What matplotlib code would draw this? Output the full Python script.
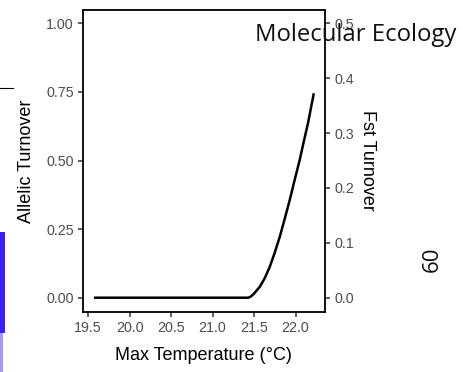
import matplotlib
matplotlib.use("Agg")
import matplotlib.pyplot as plt
from matplotlib.patches import Rectangle
from matplotlib.lines import Line2D

# fitted allelic turnover along the maximum temperature gradient
max_temp = [19.57, 20.5, 21.43, 21.46, 21.50, 21.53, 21.57, 21.63,
            21.69, 21.75, 21.81, 21.87, 21.93, 21.99, 22.05, 22.10,
            22.15, 22.22]
allelic_turnover = [0.0, 0.0, 0.0, 0.004, 0.015, 0.026, 0.040, 0.072,
                    0.113, 0.165, 0.222, 0.288, 0.356, 0.430, 0.502,
                    0.570, 0.636, 0.745]

x_ticks = [19.5, 20.0, 20.5, 21.0, 21.5, 22.0]
y_ticks = [0.0, 0.25, 0.5, 0.75, 1.0]
fst_ticks = [0.0, 0.1, 0.2, 0.3, 0.4, 0.5]
fst_scale = 0.5

plt.rcParams['font.family'] = ['Liberation Sans', 'DejaVu Sans']

W, H = 463, 372
fig = plt.figure(figsize=(W / 100, H / 100), dpi=100)
ax = fig.add_axes([82.7 / W, 1 - 311.7 / H, (325 - 82.7) / W, (311.7 - 10) / H])

ax.plot(max_temp, allelic_turnover, color='black', lw=1.8, solid_capstyle='butt')

ax.set_xlim(19.435, 22.355)
ax.set_ylim(-0.051, 1.0485)
ax.set_xticks(x_ticks)
ax.set_xticklabels([f"{t:.1f}" for t in x_ticks])
ax.set_yticks(y_ticks)
ax.set_yticklabels([f"{t:.2f}" for t in y_ticks])

tick_kw = dict(direction='out', length=3.5, width=1.1, color='#333333',
               labelcolor='#4d4d4d', labelsize=10.3, pad=3)
ax.tick_params(**tick_kw)
for sp in ax.spines.values():
    sp.set_linewidth(1.3)
    sp.set_color('black')

ax.set_xlabel("Max Temperature (°C)", fontsize=13, labelpad=9)
ax.set_ylabel("Allelic Turnover", fontsize=13, labelpad=8)

# Fst turnover shares the curve on a rescaled right-hand axis
sec = ax.secondary_yaxis('right', functions=(lambda y: y * fst_scale,
                                             lambda y: y / fst_scale))
sec.set_yticks(fst_ticks)
sec.set_yticklabels([f"{t:.1f}" for t in fst_ticks])
sec.tick_params(**tick_kw)
sec.spines['right'].set_visible(False)
sec.set_ylabel("Fst Turnover", fontsize=13, rotation=270, labelpad=16)

# journal header and page number
fig.text(255 / W, 1 - 41 / H, "Molecular Ecology", family='Open Sans',
         fontsize=17.2, color='#111111', ha='left', va='baseline')
fig.text(432 / W, 1 - 259 / H, "60", family='Open Sans', fontsize=16,
         color='#111111', rotation=90, ha='center', va='center')

# strip of the neighbouring figure along the left edge
fig.add_artist(Rectangle((0, 1 - 333 / H), 5 / W, (333 - 232) / H,
                         transform=fig.transFigure, color='#3c22f2', lw=0))
fig.add_artist(Rectangle((0, 1 - 372 / H), 3 / W, (372 - 333) / H,
                         transform=fig.transFigure, color='#6a55f0', lw=0, alpha=0.6))
fig.add_artist(Line2D([0, 13 / W], [1 - 88.3 / H] * 2,
                      transform=fig.transFigure, color='black', lw=0.8))

fig.savefig("out.png", dpi=100)
